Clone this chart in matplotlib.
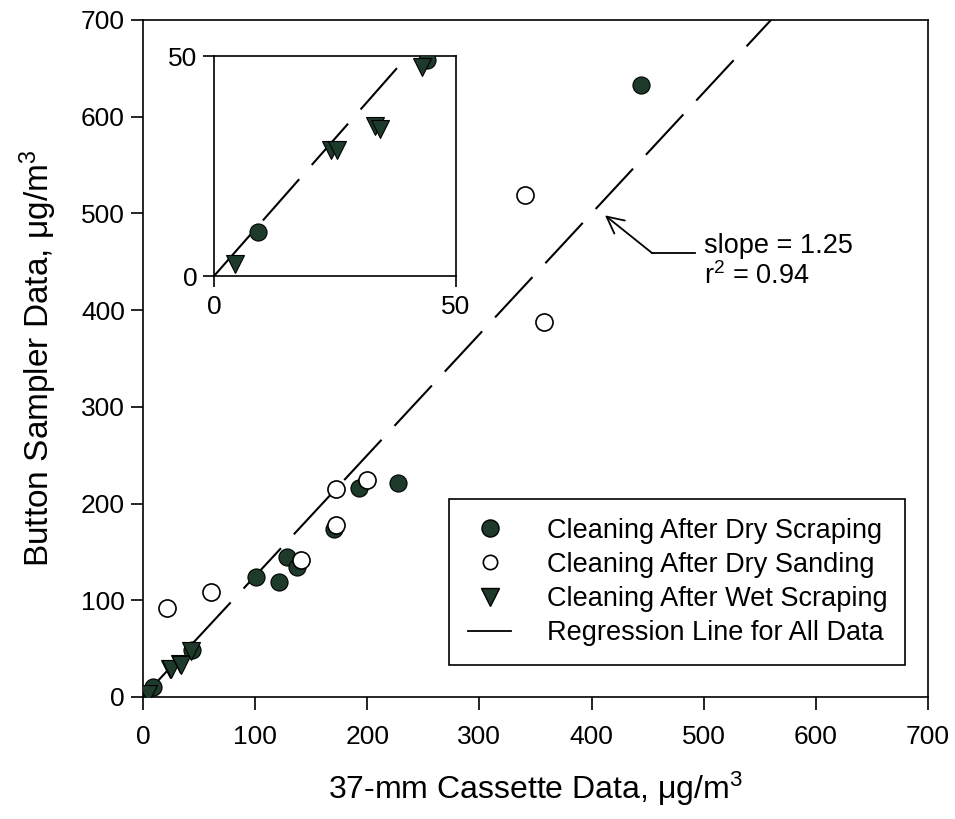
import numpy as np
import matplotlib
matplotlib.use("Agg")
import matplotlib.pyplot as plt
from matplotlib.lines import Line2D

plt.rcParams['font.family'] = ['Liberation Sans', 'DejaVu Sans']
plt.rcParams['mathtext.fontset'] = 'custom'
plt.rcParams['mathtext.rm'] = 'Liberation Sans'
plt.rcParams['mathtext.it'] = 'Liberation Sans'
plt.rcParams['mathtext.default'] = 'regular'

# ---------------- data ----------------
dry_scrap_x = [444, 227, 193, 128, 137, 101, 121, 170, 44, 9]
dry_scrap_y = [633, 221, 216, 145, 134, 124, 119, 174, 49, 10]

dry_sand_x = [341, 358, 21, 61, 141, 172, 172, 200]
dry_sand_y = [519, 388, 92, 109, 142, 178, 215, 224]

wet_scrap_x = [4.4, 24.2, 25.4, 33.3, 34.3, 43.0]
wet_scrap_y = [2.7, 28.7, 28.6, 34.2, 33.3, 47.4]

slope = 1.25
r2 = 0.94

labels = ["Cleaning After Dry Scraping", "Cleaning After Dry Sanding",
          "Cleaning After Wet Scraping", "Regression Line for All Data"]
main_ticks = [0, 100, 200, 300, 400, 500, 600, 700]
inset_ticks = [0, 50]

# --------------- styling --------------
DARK = '#1d3a2b'
MS = 12.3
DASH = (0, (26.4, 9.1))
LW_REG = 1.5
TICKFS = 19

fig = plt.figure(figsize=(9.55, 8.19), dpi=100)
ax = fig.add_axes([0.1497, 0.149, 0.822, 0.8266])

def draw(a, xmax):
    xs = np.array([0, xmax])
    a.plot(xs, slope * xs, color='black', lw=LW_REG, linestyle=DASH, zorder=1)
    a.plot(dry_scrap_x, dry_scrap_y, 'o', ms=MS, mfc=DARK, mec='black', mew=0.8,
           ls='none', zorder=3)
    a.plot(dry_sand_x, dry_sand_y, 'o', ms=MS, mfc='white', mec='black', mew=1.2,
           ls='none', zorder=4)
    a.plot(wet_scrap_x, wet_scrap_y, 'v', ms=MS, mfc=DARK, mec='black', mew=0.8,
           ls='none', zorder=3)

draw(ax, 700)
ax.set_xlim(0, 700)
ax.set_ylim(0, 700)
ax.set_xticks(main_ticks)
ax.set_yticks(main_ticks)
ax.tick_params(direction='out', length=9, width=1.2, labelsize=TICKFS,
               top=False, right=False)
ax.tick_params(axis='x', pad=11)
ax.tick_params(axis='y', pad=4)
for s in ax.spines.values():
    s.set_linewidth(1.2)
ax.set_xlabel("37-mm Cassette Data, μg/m$^3$", fontsize=23, labelpad=15)
ax.set_ylabel("Button Sampler Data, μg/m$^3$", fontsize=24, labelpad=16)

# annotation
tip = (412, 498)
elbow = (454, 459)
tail = (492, 459)
ax.annotate('', xy=tip, xytext=elbow,
            arrowprops=dict(arrowstyle='->', lw=1.3, color='black',
                            mutation_scale=30, shrinkA=0, shrinkB=0))
ax.plot([elbow[0], tail[0]], [elbow[1], tail[1]], color='black', lw=1.3)
ax.text(500, 466, f"slope = {slope:.2f}", fontsize=19.5, va='center', ha='left')
ax.text(500, 435, f"r$^2$ = {r2:.2f}", fontsize=19.5, va='center', ha='left')

# legend
handles = [
    Line2D([], [], marker='o', ms=MS, mfc=DARK, mec='black', ls='none'),
    Line2D([], [], marker='o', ms=MS - 2, mfc='white', mec='black', mew=1.2, ls='none'),
    Line2D([], [], marker='v', ms=MS, mfc=DARK, mec='black', ls='none'),
    Line2D([], [], color='black', lw=1.3),
]
leg = ax.legend(handles, labels, loc='lower left',
                bbox_to_anchor=(0.390, 0.047, 0.581, 0.248), mode='expand',
                borderaxespad=0, fontsize=19.5, frameon=True, fancybox=False,
                edgecolor='black', framealpha=1, handlelength=1.6,
                handletextpad=1.3, labelspacing=0.3, borderpad=0.7)
leg.get_frame().set_linewidth(1.2)

# inset
axi = fig.add_axes([0.2241, 0.663, 0.2534, 0.2686])
draw(axi, 50)
axi.set_xlim(0, 50)
axi.set_ylim(0, 50)
axi.set_xticks(inset_ticks)
axi.set_yticks(inset_ticks)
axi.tick_params(direction='out', length=8, width=1.2, labelsize=TICKFS,
                top=False, right=False)
axi.tick_params(axis='x', pad=6)
axi.tick_params(axis='y', pad=4)
for s in axi.spines.values():
    s.set_linewidth(1.2)

fig.savefig("out.png", dpi=100)
